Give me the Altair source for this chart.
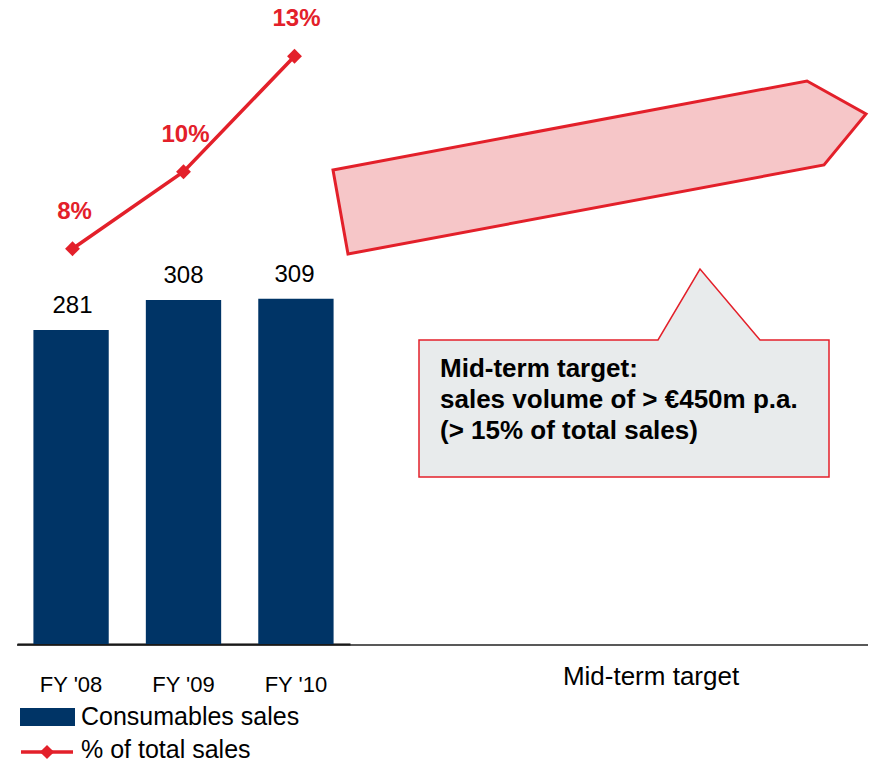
import altair as alt
import pandas as pd

# ---- chart values ----
periods = ["FY '08", "FY '09", "FY '10"]
consumables_sales = [281, 308, 309]          # € m
share_of_total = [8, 10, 13]                 # % of total sales
share_labels = ["8%", "10%", "13%"]
target_label = "Mid-term target"
target_text = ["Mid-term target:", "sales volume of > €450m p.a.", "(> 15% of total sales)"]
legend_labels = ["Consumables sales", "% of total sales"]

# ---- styling / layout ----
FONT = "Liberation Sans"
NAVY = "#003466"
RED = "#E3202A"
ARROW_FILL = "#F6C6C8"
BOX_FILL = "#E8EBEC"
LEFT, W, H, BOTTOM = 17, 853, 644, 118

# annotation geometry in canvas pixels
arrow_x = [333, 807, 866, 824, 348]
arrow_y = [170, 81, 114, 165, 254]
box_x = [419, 658, 700, 760, 829, 829, 419]
box_y = [340, 340, 269, 340, 340, 477, 477]

df = pd.DataFrame({
    "period": periods,
    "sales": consumables_sales,
    "share": share_of_total,
    "share_label": share_labels,
})

x_band = alt.Scale(range=[0, 333], paddingInner=0.33, paddingOuter=0.146)
x_axis = alt.Axis(
    title=None, labelFont=FONT, labelFontSize=22, labelColor="black",
    labelBaseline="alphabetic", labelPadding=47, labelAngle=0,
    ticks=False, tickSize=0, domainColor="black", domainWidth=2, grid=False,
)
x_main = alt.X("period:N", sort=periods, scale=x_band, axis=x_axis)
x_plain = alt.X("period:N", sort=periods, scale=x_band, axis=None)

y_sales = alt.Y("sales:Q", scale=alt.Scale(domain=[0, 576.5], nice=False), axis=None)
y_share = alt.Y("share:Q", scale=alt.Scale(domain=[-2.265, 14.46], nice=False, zero=False), axis=None)


def px_x(field):
    return alt.X(f"{field}:Q", scale=alt.Scale(domain=[LEFT, LEFT + W], nice=False, zero=False), axis=None)


def px_y(field):
    return alt.Y(f"{field}:Q", scale=alt.Scale(domain=[0, H], reverse=True, nice=False, zero=False), axis=None)


# ---- sales bars ----
bars = alt.Chart(df).mark_bar(color=NAVY).encode(x=x_main, y=y_sales)
bar_text = alt.Chart(df).mark_text(
    font=FONT, fontSize=24, color="black", baseline="alphabetic", dy=-17
).encode(x=x_plain, y=y_sales, text="sales:Q")

# ---- share of total sales line ----
share_line = alt.Chart(df).mark_line(color=RED, strokeWidth=3.5).encode(x=x_plain, y=y_share)
share_pts = alt.Chart(df).mark_point(
    shape="diamond", filled=True, size=220, color=RED, opacity=1
).encode(x=x_plain, y=y_share)
share_text = alt.Chart(df).mark_text(
    font=FONT, fontSize=24, fontWeight="bold", color=RED, baseline="alphabetic", dy=-30, dx=2
).encode(x=x_plain, y=y_share, text="share_label:N")

# ---- baseline across the full width ----
base_df = pd.DataFrame({"x1": [LEFT], "x2": [868], "y": [645]})
baseline = alt.Chart(base_df).mark_rule(color="#222222", strokeWidth=1.5).encode(
    x=px_x("x1"), x2="x2:Q", y=px_y("y")
)

# ---- target label under the axis ----
tgt_df = pd.DataFrame({"x": [651], "y": [685], "t": [target_label]})
tgt_text = alt.Chart(tgt_df).mark_text(
    font=FONT, fontSize=26, color="black", align="center", baseline="alphabetic"
).encode(x=px_x("x"), y=px_y("y"), text="t:N")

# ---- growth arrow ----
arrow_df = pd.DataFrame({"x": arrow_x, "y": arrow_y, "o": list(range(len(arrow_x)))})
arrow = alt.Chart(arrow_df).mark_line(
    interpolate="linear-closed", fill=ARROW_FILL, stroke=RED, strokeWidth=3, strokeJoin="miter"
).encode(x=px_x("x"), y=px_y("y"), order="o:Q")

# ---- callout box ----
box_df = pd.DataFrame({"x": box_x, "y": box_y, "o": list(range(len(box_x)))})
box = alt.Chart(box_df).mark_line(
    interpolate="linear-closed", fill=BOX_FILL, stroke=RED, strokeWidth=1.5, strokeJoin="miter"
).encode(x=px_x("x"), y=px_y("y"), order="o:Q")
box_txt_df = pd.DataFrame({"x": [440], "y": [377]})
box_text = alt.Chart(box_txt_df).mark_text(
    font=FONT, fontSize=26, fontWeight="bold", color="black", align="left",
    baseline="alphabetic", lineHeight=31
).encode(x=px_x("x"), y=px_y("y"), text=alt.value(target_text))

# ---- legend ----
leg_rect_df = pd.DataFrame({"x": [20], "x2": [75], "y": [708], "y2": [726]})
leg_rect = alt.Chart(leg_rect_df).mark_rect(color=NAVY).encode(
    x=px_x("x"), x2="x2:Q", y=px_y("y"), y2="y2:Q"
)
leg_line_df = pd.DataFrame({"x": [21], "x2": [73], "y": [752]})
leg_line = alt.Chart(leg_line_df).mark_rule(color=RED, strokeWidth=3.5).encode(
    x=px_x("x"), x2="x2:Q", y=px_y("y")
)
leg_pt_df = pd.DataFrame({"x": [47], "y": [752]})
leg_pt = alt.Chart(leg_pt_df).mark_point(
    shape="diamond", filled=True, size=200, color=RED, opacity=1
).encode(x=px_x("x"), y=px_y("y"))
leg_txt_df = pd.DataFrame({"x": [81, 81], "y": [725, 758], "t": legend_labels})
leg_text = alt.Chart(leg_txt_df).mark_text(
    font=FONT, fontSize=25, color="black", align="left", baseline="alphabetic"
).encode(x=px_x("x"), y=px_y("y"), text="t:N")

chart = alt.layer(
    arrow, box, box_text,
    bars, bar_text, baseline,
    share_line, share_pts, share_text,
    tgt_text, leg_rect, leg_line, leg_pt, leg_text,
).resolve_scale(
    x="independent", y="independent"
).properties(
    width=W, height=H,
    padding={"left": LEFT, "top": 0, "right": 0, "bottom": BOTTOM},
    autosize=alt.AutoSizeParams(type="none"),
    background="white",
).configure_view(stroke=None)

chart.save("out.html", embed_options={"renderer": "svg", "actions": False})
